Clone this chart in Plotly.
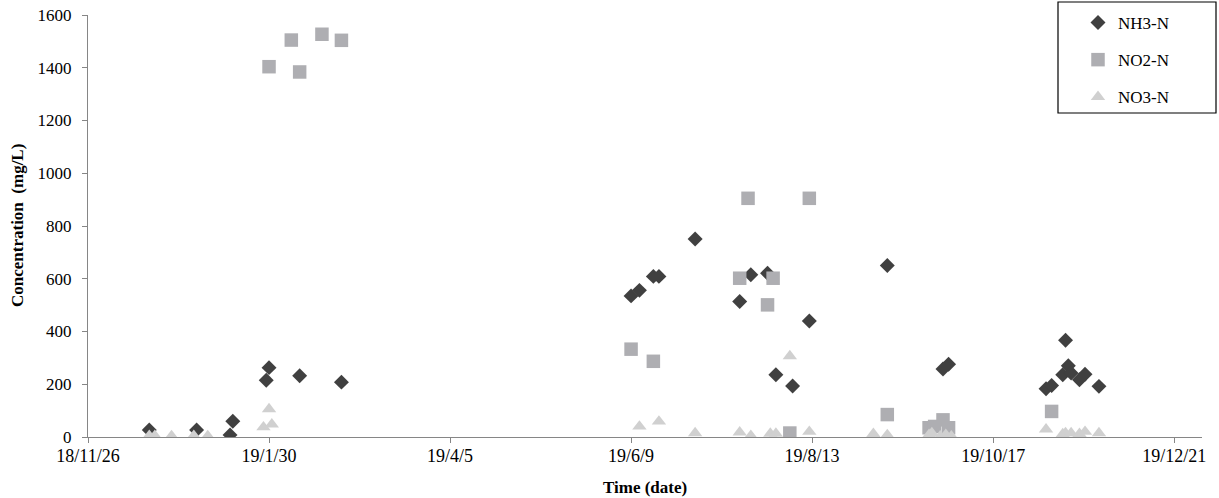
import plotly.graph_objects as go

# Ammonia nitrogen (NH3-N), mg/L
nh3_dates = [
    "2018-12-18", "2019-01-04", "2019-01-16", "2019-01-17", "2019-01-29",
    "2019-01-30", "2019-02-10", "2019-02-25", "2019-06-09", "2019-06-12",
    "2019-06-17", "2019-06-19", "2019-07-02", "2019-07-18", "2019-07-22",
    "2019-07-28", "2019-07-31", "2019-08-06", "2019-08-12", "2019-09-09",
    "2019-09-29", "2019-10-01", "2019-11-05", "2019-11-07", "2019-11-11",
    "2019-11-12", "2019-11-13", "2019-11-14", "2019-11-17", "2019-11-19",
    "2019-11-24",
]
nh3_values = [
    27, 27, 8, 60, 215,
    263, 232, 208, 535, 556,
    609, 609, 751, 514, 615,
    621, 236, 193, 440, 650,
    258, 276, 183, 195, 236,
    367, 270, 243, 217, 238,
    192,
]

# Nitrite nitrogen (NO2-N), mg/L
no2_dates = [
    "2019-01-30", "2019-02-07", "2019-02-10", "2019-02-18", "2019-02-25",
    "2019-06-09", "2019-06-17", "2019-07-18", "2019-07-21", "2019-07-28",
    "2019-07-30", "2019-08-05", "2019-08-12", "2019-09-09", "2019-09-24",
    "2019-09-26", "2019-09-29", "2019-10-01", "2019-11-07",
]
no2_values = [
    1404, 1505, 1384, 1527, 1504,
    333, 287, 602, 905, 501,
    602, 15, 905, 85, 35,
    40, 65, 35, 97,
]

# Nitrate nitrogen (NO3-N), mg/L
no3_dates = [
    "2018-12-18", "2018-12-20", "2018-12-26", "2019-01-03", "2019-01-08",
    "2019-01-28", "2019-01-30", "2019-01-31", "2019-06-12", "2019-06-19",
    "2019-07-02", "2019-07-18", "2019-07-22", "2019-07-29", "2019-07-31",
    "2019-08-05", "2019-08-12", "2019-09-04", "2019-09-09", "2019-09-24",
    "2019-09-25", "2019-09-28", "2019-09-30", "2019-10-02", "2019-11-05",
    "2019-11-11", "2019-11-12", "2019-11-14", "2019-11-17", "2019-11-19",
    "2019-11-24",
]
no3_values = [
    5, 5, 4, 5, 4,
    37, 106, 48, 40, 59,
    15, 18, 5, 13, 13,
    307, 20, 12, 8, 9,
    15, 3, 9, 3, 29,
    11, 15, 15, 12, 20,
    15,
]

SERIF = "Liberation Serif, Times New Roman, serif"
AXIS_GREY = "#868686"

# plot area in pixels
L, R, T, B = 88, 1202, 15, 437
W, H = R - L, B - T


def px_x(x):
    return (x - L) / W


def px_y(y):
    return (B - y) / H


fig = go.Figure()
fig.add_trace(go.Scatter(
    x=nh3_dates, y=nh3_values, mode="markers", name="NH3-N", legendgroup="a",
    marker=dict(symbol="diamond", size=11.5, color="#404040"),
))
fig.add_trace(go.Scatter(
    x=no2_dates, y=no2_values, mode="markers", name="NO2-N", legendgroup="b",
    marker=dict(symbol="square", size=13.5, color="#AEAEB2"),
))
fig.add_trace(go.Scatter(
    x=no3_dates, y=no3_values, mode="markers", name="NO3-N", legendgroup="c",
    marker=dict(symbol="triangle-up", size=12.5, color="#D0D0D0"),
))

# legend frame
fig.add_shape(
    type="rect", xref="paper", yref="paper",
    x0=px_x(1058), x1=px_x(1216), y0=px_y(113), y1=px_y(2),
    line=dict(color="#000000", width=1.2), fillcolor="rgba(0,0,0,0)",
    layer="above",
)

# axis titles
fig.add_annotation(
    text="<b>Time (date)</b>", xref="paper", yref="paper",
    x=0.5, y=px_y(487), xanchor="center", yanchor="middle",
    showarrow=False, font=dict(family=SERIF, size=17, color="#000000"),
)
fig.add_annotation(
    text="<b>Concentration\u00a0\u00a0(mg/L)</b>", xref="paper", yref="paper",
    x=px_x(17), y=0.5, xanchor="center", yanchor="middle", textangle=-90,
    showarrow=False, font=dict(family=SERIF, size=17, color="#000000"),
)

fig.update_layout(
    width=1219, height=498,
    margin=dict(l=L, r=1219 - R, t=T, b=498 - B, autoexpand=False),
    paper_bgcolor="white", plot_bgcolor="white",
    font=dict(family=SERIF, color="#000000", size=17),
    showlegend=True,
    legend=dict(
        x=px_x(1078), y=px_y(5), xanchor="left", yanchor="top",
        bgcolor="rgba(0,0,0,0)", borderwidth=0,
        font=dict(family=SERIF, size=17, color="#000000"),
        tracegroupgap=12, itemclick=False,
    ),
    xaxis=dict(
        type="date", automargin=False,
        range=["2018-11-26", "2019-12-31"],
        tick0="2018-11-26", dtick=65 * 86400000,
        tickformat="%y/%-m/%-d",
        showline=True, linecolor=AXIS_GREY, linewidth=1,
        ticks="outside", ticklen=5, tickcolor=AXIS_GREY,
        ticklabelstandoff=-3,
        showgrid=False, zeroline=False,
        tickfont=dict(family=SERIF, size=18, color="#000000"),
    ),
    yaxis=dict(
        automargin=False,
        range=[0, 1600], dtick=200,
        showline=True, linecolor=AXIS_GREY, linewidth=1,
        ticks="outside", ticklen=5, tickcolor=AXIS_GREY,
        ticklabelstandoff=7,
        showgrid=False, zeroline=False,
        tickfont=dict(family=SERIF, size=17, color="#000000"),
    ),
)

fig.write_html("out.html")
